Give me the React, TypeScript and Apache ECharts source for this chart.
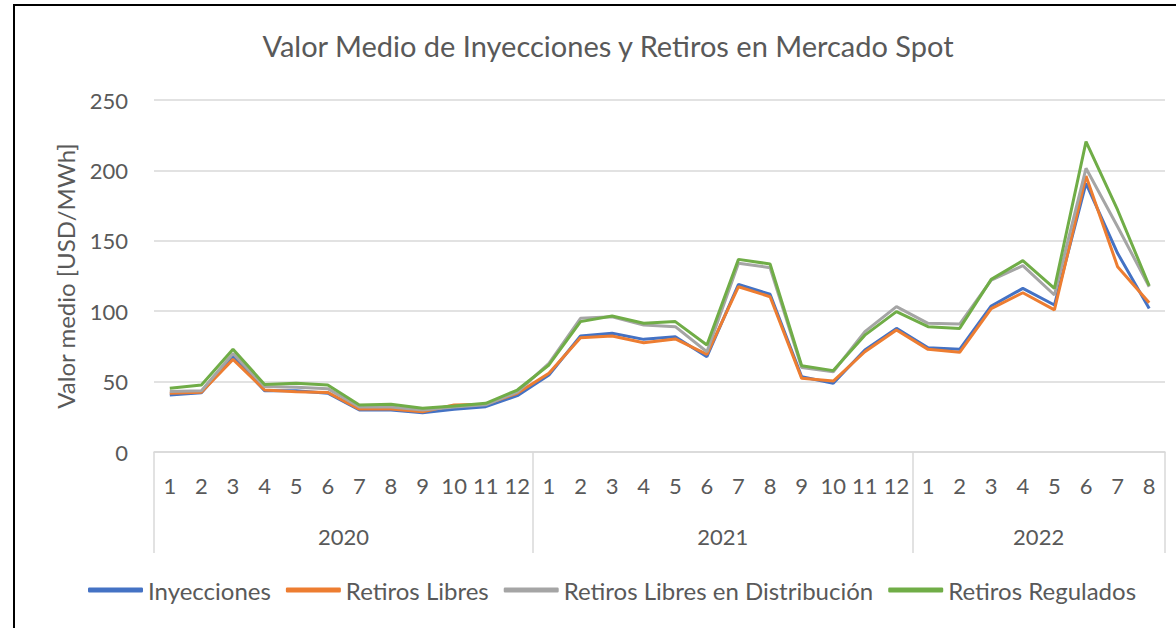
import React, { useEffect, useRef } from "react";
import * as echarts from "echarts";

const months: string[] = [
  "1", "2", "3", "4", "5", "6", "7", "8", "9", "10", "11", "12",
  "1", "2", "3", "4", "5", "6", "7", "8", "9", "10", "11", "12",
  "1", "2", "3", "4", "5", "6", "7", "8",
];
const years: string[] = ["2020", "2021", "2022"];
const yearCenters: number[] = [6, 18, 28];
const yTicks = { min: 0, max: 250, interval: 50 };

const inyecciones: number[] = [
  40.5, 42, 68, 43.5, 43.5, 41.7, 29.8, 29.8, 27.9, 30.3, 32.2, 40,
  54.7, 82.4, 84.3, 80, 81.9, 67.7, 119, 112, 53.5, 48.8, 72.4, 87.8,
  74, 72.9, 103.7, 116.2, 104.4, 190.8, 141.1, 102,
];
const retirosLibres: number[] = [
  41.7, 42.5, 65.8, 44, 42.8, 42.3, 30.5, 30.5, 28.6, 33.4, 34, 41.7,
  55.9, 81.2, 82.4, 77.6, 80.3, 69.4, 117.4, 110.3, 52.3, 50.4, 71.2, 86.6,
  72.9, 70.8, 101.8, 113.1, 100.9, 196, 131.6, 106,
];
const retirosDistribucion: number[] = [
  43, 43.5, 70, 46.5, 46, 45, 32, 32, 29.8, 32, 33.5, 42.6,
  63, 95, 96, 90.2, 89, 71.2, 134, 130.9, 60, 57, 85.5, 103.2,
  91.4, 90.9, 122, 132.3, 111.5, 201.5, 160, 117.4,
];
const retirosRegulados: number[] = [
  45.2, 47.6, 73, 48, 48.8, 47.6, 33.4, 33.9, 31, 32.7, 34.6, 44,
  61.8, 92.6, 96.6, 91.4, 92.6, 76, 136.8, 133.5, 61.3, 57.8, 83, 99.7,
  89, 87.8, 122.6, 135.9, 116.2, 220.4, 171.9, 118.1,
];

const seriesNames: string[] = [
  "Inyecciones",
  "Retiros Libres",
  "Retiros Libres en Distribución",
  "Retiros Regulados",
];
const seriesColors: string[] = ["#4472C4", "#ED7D31", "#A5A5A5", "#70AD47"];
const seriesData: number[][] = [inyecciones, retirosLibres, retirosDistribucion, retirosRegulados];

const FONT = "Lato, 'Liberation Sans', sans-serif";
const TEXT = "#595959";
const GRID = "#d9d9d9";

export default function App() {
  const ref = useRef<HTMLDivElement>(null);

  useEffect(() => {
    document.body.style.margin = "0";
    if (!ref.current) return;
    const chart = echarts.init(ref.current, null, { renderer: "svg" });
    chart.setOption({
      animation: false,
      backgroundColor: "transparent",
      textStyle: { fontFamily: FONT },
      title: {
        text: "Valor Medio de Inyecciones y Retiros en Mercado Spot",
        left: 603,
        top: 26,
        textAlign: "center",
        textStyle: { fontFamily: FONT, fontSize: 29, fontWeight: "normal", color: TEXT },
      },
      legend: {
        left: 83,
        top: 573,
        data: seriesNames,
        icon: "roundRect",
        itemWidth: 55,
        itemHeight: 5,
        itemGap: 15,
        textStyle: { fontFamily: FONT, fontSize: 24, color: TEXT },
      },
      grid: { left: 154, right: 11, top: 100, bottom: 176, containLabel: false },
      xAxis: [
        {
          type: "category",
          data: months,
          boundaryGap: true,
          axisLine: { show: true, lineStyle: { color: GRID, width: 1.5 } },
          axisTick: {
            show: true,
            interval: (idx: number) => idx % 12 === 0,
            length: 101,
            lineStyle: { color: GRID, width: 1.5 },
          },
          axisLabel: { interval: 0, margin: 22, fontFamily: FONT, fontSize: 22, color: TEXT },
          splitLine: { show: false },
        },
        {
          type: "value",
          min: 0,
          max: months.length,
          interval: 2,
          position: "bottom",
          offset: 50,
          axisLine: { show: false },
          axisTick: { show: false },
          splitLine: { show: false },
          axisLabel: {
            margin: 23,
            fontFamily: FONT,
            fontSize: 22,
            color: TEXT,
            formatter: (v: number) => {
              const i = yearCenters.indexOf(v);
              return i >= 0 ? years[i] : "";
            },
          },
        },
      ],
      yAxis: {
        type: "value",
        min: yTicks.min,
        max: yTicks.max,
        interval: yTicks.interval,
        name: "Valor medio [USD/MWh]",
        nameLocation: "middle",
        nameRotate: 90,
        nameGap: 77,
        nameTextStyle: { fontFamily: FONT, fontSize: 24, color: TEXT },
        axisLine: { show: false },
        axisTick: { show: false },
        axisLabel: { margin: 26, fontFamily: FONT, fontSize: 22, color: TEXT },
        splitLine: { lineStyle: { color: GRID, width: 1.5 } },
      },
      series: seriesNames.map((name, i) => ({
        name,
        type: "line",
        xAxisIndex: 0,
        data: seriesData[i],
        symbol: "none",
        color: seriesColors[i],
        lineStyle: { width: 3, color: seriesColors[i] },
        z: 2 + i,
      })),
    });
    return () => chart.dispose();
  }, []);

  return (
    <div style={{ position: "relative", width: 1176, height: 628, background: "#fff", overflow: "hidden" }}>
      <div
        style={{
          position: "absolute",
          left: 13,
          top: 4,
          width: 1176,
          height: 640,
          borderTop: "2px solid #000",
          borderLeft: "2px solid #000",
        }}
      />
      <div ref={ref} style={{ position: "absolute", left: 0, top: 0, width: 1176, height: 628 }} />
    </div>
  );
}
